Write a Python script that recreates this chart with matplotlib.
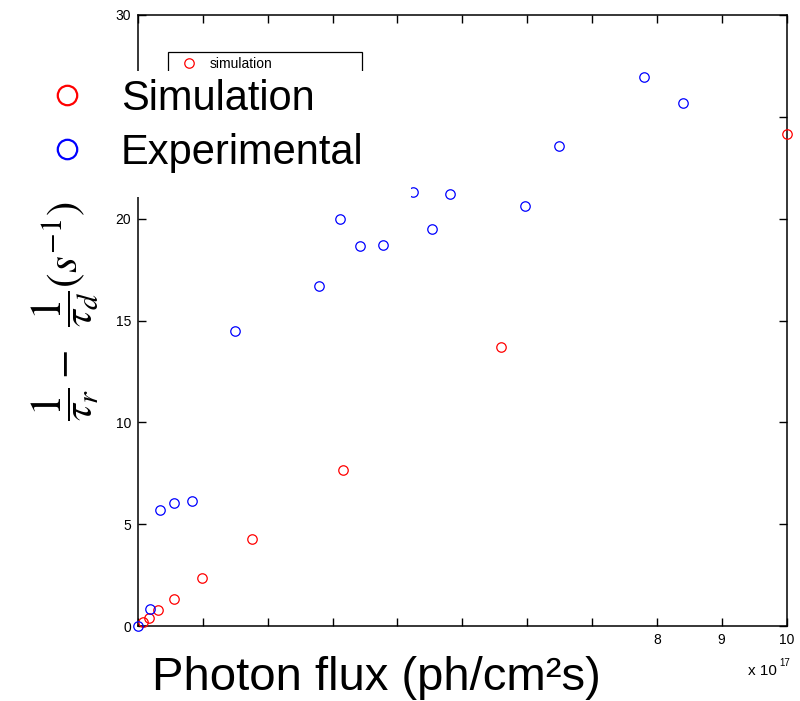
import matplotlib
matplotlib.use('Agg')
import matplotlib.pyplot as plt
from matplotlib.lines import Line2D
from matplotlib.patches import Rectangle

plt.rcParams['font.family'] = ['Liberation Sans', 'DejaVu Sans']
plt.rcParams['mathtext.fontset'] = 'stix'

# ---- data (x in units of 1e17 ph/cm^2 s) ----
sim_x = [0.08, 0.17, 0.31, 0.555, 0.99, 1.76, 3.16, 5.60, 10.0]
sim_y = [0.21, 0.38, 0.77, 1.34, 2.37, 4.29, 7.67, 13.70, 24.15]
exp_x = [0.0, 0.185, 0.34, 0.555, 0.84, 1.50, 2.79, 3.11, 3.43, 3.78, 4.24,
         4.54, 4.81, 5.96, 6.49, 7.80, 8.40]
exp_y = [0.0, 0.83, 5.70, 6.02, 6.14, 14.50, 16.68, 19.98, 18.65, 18.72, 21.32,
         19.47, 21.21, 20.63, 23.56, 26.97, 25.69]

x_ticks = [0, 1, 2, 3, 4, 5, 6, 7, 8, 9, 10]
x_tick_labels = ['', '', '', '', '', '', '', '', '8', '9', '10']
y_ticks = [0, 5, 10, 15, 20, 25, 30]
y_tick_labels = ['0', '5', '10', '15', '20', '', '30']

W, H = 800, 701
fig = plt.figure(figsize=(W / 100, H / 100), dpi=100)
ax = fig.add_axes([138 / W, 1 - 626 / H, (786.5 - 138) / W, (626 - 15) / H])

sim_line, = ax.plot(sim_x, sim_y, linestyle='none', marker='o', markersize=6.8,
                    markerfacecolor='none', markeredgecolor='#ff0000',
                    markeredgewidth=0.9, clip_on=False, zorder=3)
exp_line, = ax.plot(exp_x, exp_y, linestyle='none', marker='o', markersize=6.8,
                    markerfacecolor='none', markeredgecolor='#0000ff',
                    markeredgewidth=0.9, clip_on=False, zorder=3)

ax.set_xlim(0, 10)
ax.set_ylim(0, 30)
ax.set_xticks(x_ticks)
ax.set_xticklabels(x_tick_labels)
ax.set_yticks(y_ticks)
ax.set_yticklabels(y_tick_labels)
ax.tick_params(direction='in', length=6, width=1.0, labelsize=10,
               top=True, right=True, pad=5, colors='black')
for s in ax.spines.values():
    s.set_linewidth(1.1)

# original small legend (partly hidden)
leg = ax.legend(handles=[sim_line], labels=['simulation'], loc='upper left',
                bbox_to_anchor=(168 / W, 1 - 51.7 / H, (361.7 - 168) / W, 0),
                bbox_transform=fig.transFigure, mode='expand', borderaxespad=0,
                fontsize=10, handlelength=2.2, handletextpad=0.43,
                fancybox=False, framealpha=1, edgecolor='black', borderpad=0.4)
leg.get_frame().set_linewidth(0.9)

# axis labels
ax.set_xlabel('Photon flux (ph/cm²s)', fontsize=34)
ax.xaxis.set_label_coords((376 - 138) / 648.5, (626 - 690) / 611)
ax.xaxis.label.set_verticalalignment('baseline')

ax.set_ylabel(r'$\dfrac{1}{\tau_r} - \enspace\dfrac{1}{\tau_d}(s^{-1})$', fontsize=31)
ax.yaxis.set_label_coords((65 - 138) / 648.5, (626 - 311.5) / 611)
ax.yaxis.label.set_verticalalignment('center')

# exponent note
fig.text(748 / W, 1 - 675 / H, 'x 10', fontsize=11, va='baseline', ha='left')
fig.text(779 / W, 1 - 666 / H, '17', fontsize=7, va='baseline', ha='left')

# white overlay with big legend
rect = Rectangle((0, 1 - 197 / H), 411 / W, (197 - 71) / H,
                 transform=fig.transFigure, facecolor='white',
                 edgecolor='none', zorder=5)
fig.add_artist(rect)

h_sim = Line2D([], [], linestyle='none', marker='o', markersize=14,
               markerfacecolor='none', markeredgecolor='#ff0000', markeredgewidth=1.6)
h_exp = Line2D([], [], linestyle='none', marker='o', markersize=14,
               markerfacecolor='none', markeredgecolor='#0000ff', markeredgewidth=1.6)
big = fig.legend(handles=[h_sim, h_exp], labels=['Simulation', 'Experimental'],
                 loc='upper left', bbox_to_anchor=(40 / W, 1 - 78.7 / H),
                 bbox_transform=fig.transFigure, frameon=False, fontsize=30,
                 borderpad=0, borderaxespad=0, handlelength=1.28,
                 handletextpad=0.655, labelspacing=0.34)
big.set_zorder(10)

fig.savefig('out.png', dpi=100, facecolor='white')
